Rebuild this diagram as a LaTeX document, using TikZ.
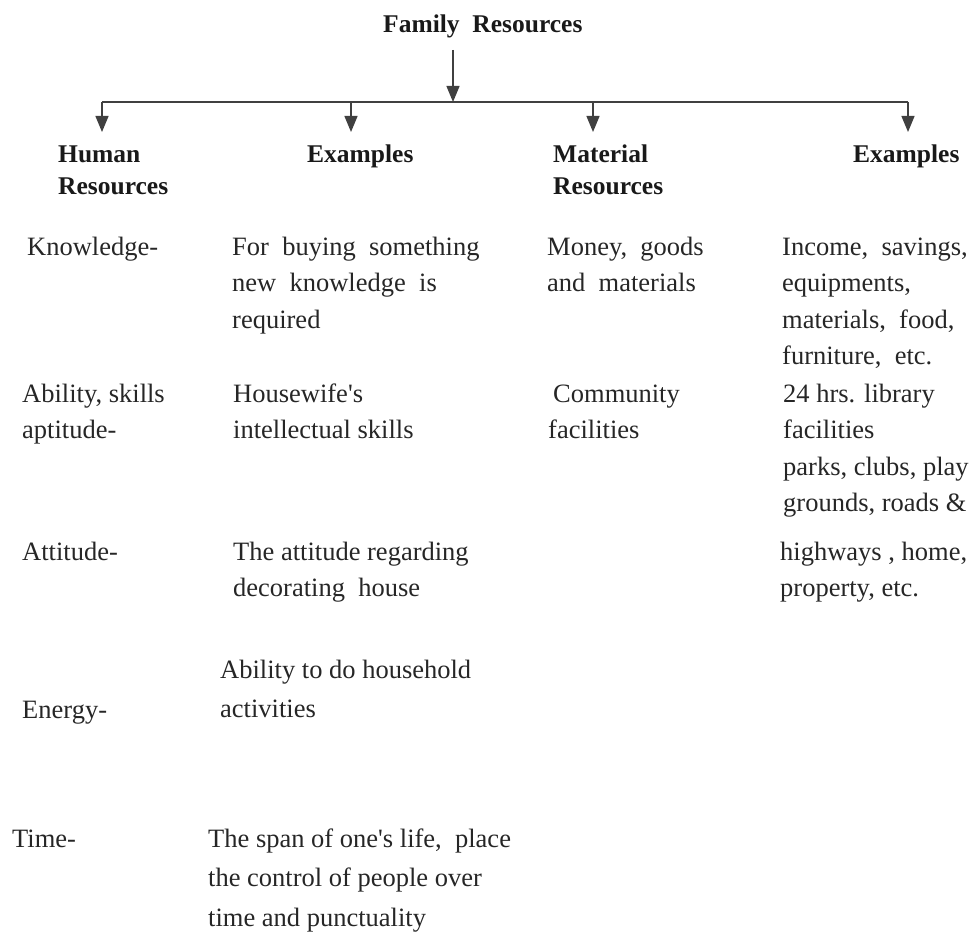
\documentclass[tikz,border=0pt]{standalone}
\usepackage{fontspec}
\setmainfont{Liberation Serif}
\usetikzlibrary{arrows.meta}
\tikzset{
  head/.style={anchor=base west,inner sep=0pt,align=left,text=black!90,
    font=\fontsize{25.5}{32.5}\selectfont\bfseries},
  item/.style={anchor=base west,inner sep=0pt,align=left,text=black!85,
    font=\fontsize{26.5}{36.6}\selectfont},
  wide/.style={item,font=\fontsize{26.5}{39.5}\selectfont},
  bus/.style={line width=1.3pt,draw=black!75},
  drop/.style={bus,-{Triangle[width=13pt,length=16pt]}}
}
\begin{document}
\begin{tikzpicture}[x=1pt,y=-1pt]
                \useasboundingbox (0,0) rectangle (979,931);
                % headings (base = last line)
                \node[head] (fam) at (383,33) {Family\ \ Resources};
                \node[head] (hum) at (58,194.5) {Human\\Resources};
                \node[head] (exa) at (307,162) {Examples};
                \node[head] (mat) at (553,194.5) {Material\\Resources};
                \node[head] (exb) at (853,162) {Examples};
                % connectors
                \coordinate (top) at (453,50);
                \coordinate (mid) at (453,102);
                \coordinate (busL) at (102,102);
                \coordinate (busR) at (908,102);
                \draw[drop] (top) -- (mid);
                \draw[bus] (busL) -- (busR);
                \foreach \x/\n in {102/hum,351/exa,593/mat,908/exb} {
                    \coordinate (\n tip) at (\x,132);
                    \draw[drop] (\x,102) -- (\n tip);
                }
                % human resources
                \node[item] (know) at (27,255) {Knowledge-};
                \node[item] (abil) at (22,438.6) {Ability, skills\\aptitude-};
                \node[item] (atti) at (22,560) {Attitude-};
                \node[item] (ener) at (22,718) {Energy-};
                \node[item] (time) at (12,847) {Time-};
                % examples
                \node[item] (buy) at (232,328.2) {For\ \ buying\ \ something\\new\ \ knowledge\ \ is\\required};
                \node[item] (wife) at (233,438.6) {Housewife\textquotesingle s\\intellectual skills};
                \node[item] (deco) at (233,596.6) {The attitude regarding\\decorating\ \ house};
                \node[wide] (hold) at (220,717.5) {Ability to do household\\activities};
                \node[wide] (span) at (208,926) {The span of one\textquotesingle s life,\ \ place\\the control of people over\\time and punctuality};
                % material resources
                \node[item] (mon) at (547,291.6) {Money,\ \ goods\\and\ \ materials};
                \node[item] (comm) at (548,438.6) {\hspace*{5pt}Community\\facilities};
                % examples
                \node[item] (inc) at (782,364.8) {Income,\ \ savings,\\equipments,\\materials,\ \ food,\\furniture,\ \ etc.};
                \node[item] (lib) at (783,511.8) {24 hrs. library\\facilities\\parks, clubs, play\\grounds, roads \&};
                \node[item] (hwy) at (780,596.6) {highways , home,\\property, etc.};
            \end{tikzpicture}
\end{document}
